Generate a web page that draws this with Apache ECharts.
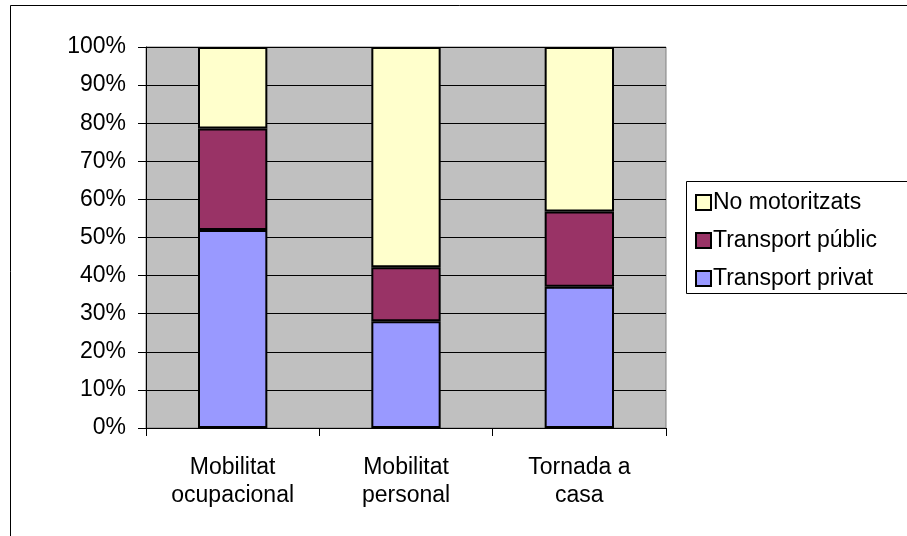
<!DOCTYPE html>
<html>
<head>
<meta charset="utf-8">
<script src="https://cdn.jsdelivr.net/npm/echarts@6/dist/echarts.min.js"></script>
<style>
  html, body { margin: 0; padding: 0; background: #fff; }
  #chart { width: 907px; height: 536px; }
</style>
</head>
<body>
<div id="chart"></div>
<script>
// Modal split by trip purpose (percent of trips)
const categories = ['Mobilitat\nocupacional', 'Mobilitat\npersonal', 'Tornada a\ncasa'];
const transportPrivat = [52.0, 28.0, 37.1];
const transportPublic = [26.6, 14.2, 19.7];
const noMotoritzats = [21.4, 57.8, 43.2];
const yTicks = [0, 10, 20, 30, 40, 50, 60, 70, 80, 90, 100];

const font = 'Liberation Sans, Arial, sans-serif';
const chart = echarts.init(document.getElementById('chart'), null, { renderer: 'canvas' });

const barStyle = (color) => ({ color: color, borderColor: '#000', borderWidth: 2 });

chart.setOption({
  animation: false,
  backgroundColor: '#fff',
  textStyle: { fontFamily: font },
  graphic: [
    { type: 'rect', shape: { x: 10.5, y: 5.5, width: 1000, height: 1000 },
      style: { fill: 'none', stroke: '#000', lineWidth: 1 }, silent: true, z: -1 },
    { type: 'rect', shape: { x: 686.5, y: 181.5, width: 400, height: 112 },
      style: { fill: '#fff', stroke: '#000', lineWidth: 1 }, silent: true, z: 0 }
  ],
  grid: {
    left: 146, top: 47, right: 241, bottom: 108,
    show: true, backgroundColor: '#c0c0c0', borderColor: '#808080', borderWidth: 1
  },
  legend: {
    orient: 'vertical', left: 690, top: 186, icon: 'rect',
    itemWidth: 15, itemHeight: 15, itemGap: 15,
    data: ['No motoritzats', 'Transport públic', 'Transport privat'],
    itemStyle: { borderColor: '#000', borderWidth: 2 },
    textStyle: { fontSize: 23, color: '#000', fontFamily: font, padding: [0, 0, 0, -3] },
    z: 5
  },
  xAxis: {
    type: 'category', data: categories,
    axisLine: { lineStyle: { color: '#000', width: 1 } },
    axisTick: { show: true, length: 8, lineStyle: { color: '#000' } },
    axisLabel: { fontSize: 23, color: '#000', lineHeight: 28, margin: 26, fontFamily: font }
  },
  yAxis: {
    type: 'value', min: yTicks[0], max: yTicks[yTicks.length - 1], interval: 10,
    axisLine: { show: true, lineStyle: { color: '#000', width: 1 } },
    axisTick: { show: true, length: 8, lineStyle: { color: '#000' } },
    axisLabel: { fontSize: 23, color: '#000', margin: 20, formatter: '{value}%', fontFamily: font },
    splitLine: { show: true, lineStyle: { color: '#000', width: 1 } }
  },
  series: [
    { name: 'Transport privat', type: 'bar', stack: 'total', data: transportPrivat,
      barWidth: '40%', itemStyle: barStyle('#9999ff') },
    { name: 'Transport públic', type: 'bar', stack: 'total', data: transportPublic,
      barWidth: '40%', itemStyle: barStyle('#993366') },
    { name: 'No motoritzats', type: 'bar', stack: 'total', data: noMotoritzats,
      barWidth: '40%', itemStyle: barStyle('#ffffcc') }
  ]
});
</script>
</body>
</html>
